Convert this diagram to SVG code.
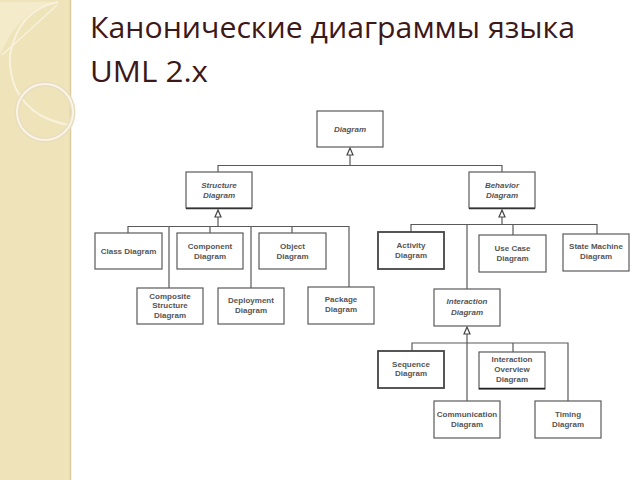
<svg xmlns="http://www.w3.org/2000/svg" width="640" height="480" viewBox="0 0 640 480">
<style>
.bx{fill:#fff;stroke:#5a5a5a;stroke-width:1.2}
.bk{fill:#fff;stroke:#444;stroke-width:1.8}
.t{font-family:"Liberation Sans",Arial,sans-serif;font-size:8px;font-weight:bold;fill:#555;text-anchor:middle}
.i{font-style:italic}
.c{fill:none;stroke:#5a5a5a;stroke-width:1.2}
.ah{fill:#fff;stroke:#444;stroke-width:1.2}
.title{font-family:"Open Sans","Noto Sans","DejaVu Sans",sans-serif;font-size:29px;fill:#3d1818}
</style>
<rect x="0" y="0" width="640" height="480" fill="#fff"/>
<g id="sidebar">
<rect x="0" y="0" width="70" height="480" fill="#efe3b9"/>
<line x1="70.5" y1="0" x2="70.5" y2="480" stroke="#d9cca0" stroke-width="1.5"/>
<path d="M0,55 Q20,8 57,2 L0,2 Z" fill="#f5ecd0" opacity="0.8"/>
<path d="M58,2 Q18,10 10,55 Q8,95 40,115 Q55,123 70,125" fill="none" stroke="#f8f1dc" stroke-width="2"/>
<path d="M57,5 Q30,30 2,55" fill="none" stroke="#f8f1dc" stroke-width="1.5"/>
<circle cx="45" cy="112" r="28" fill="none" stroke="#e8ddc0" stroke-width="5"/>
<circle cx="45" cy="112" r="28" fill="none" stroke="#faf4e4" stroke-width="2"/>
</g>
<g id="title">
<text class="title" x="90" y="38" textLength="485" lengthAdjust="spacingAndGlyphs">Канонические диаграммы языка</text>
<text class="title" x="90" y="82" textLength="118" lengthAdjust="spacingAndGlyphs">UML 2.x</text>
</g>
<g id="connectors">
<path class="c" d="M350,155 V165.5 M218,172 V165.5 H502 V172"/>
<path class="c" d="M218,217 V226.5 M128,233 V226.5 H349 V288 M210,233 V226.5 M292,233 V226.5 M169,288 V226.5 M251,288 V226.5"/>
<path class="c" d="M502,217 V224.5 M411,232 V224.5 H597 V234 M513,235 V224.5 M467,289 V224.5"/>
<path class="c" d="M467,334 V401 M412,351 V343 H568 V401 M513,352 V343"/>
<path class="ah" d="M350,148 L353,155 L347,155 Z"/>
<path class="ah" d="M218,210 L221,217 L215,217 Z"/>
<path class="ah" d="M502,210 L505,217 L499,217 Z"/>
<path class="ah" d="M467,327 L470,334 L464,334 Z"/>
</g>
<g id="diagram"><rect class="bx" x="317" y="111" width="66" height="36"/><text class="t i" x="350" y="132">Diagram</text></g>
<g id="structure"><rect class="bx" x="186" y="172" width="66" height="36"/><line x1="186" y1="208.5" x2="252" y2="208.5" stroke="#333" stroke-width="1.5"/><text class="t i" x="219" y="188">Structure</text><text class="t i" x="219" y="198">Diagram</text></g>
<g id="behavior"><rect class="bx" x="469" y="172" width="66" height="36"/><line x1="469" y1="208.5" x2="535" y2="208.5" stroke="#333" stroke-width="1.5"/><text class="t i" x="502" y="188">Behavior</text><text class="t i" x="502" y="198">Diagram</text></g>
<g id="class"><rect class="bx" x="95" y="233" width="67" height="36"/><text class="t" x="128.5" y="254">Class Diagram</text></g>
<g id="component"><rect class="bx" x="177" y="233" width="66" height="36"/><text class="t" x="210" y="248.5">Component</text><text class="t" x="210" y="258.5">Diagram</text></g>
<g id="object"><rect class="bx" x="259" y="233" width="67" height="36"/><text class="t" x="292.5" y="248.5">Object</text><text class="t" x="292.5" y="258.5">Diagram</text></g>
<g id="composite"><rect class="bx" x="137" y="288" width="66" height="36"/><text class="t" x="170" y="298.5">Composite</text><text class="t" x="170" y="308">Structure</text><text class="t" x="170" y="318">Diagram</text></g>
<g id="deployment"><rect class="bx" x="218" y="288" width="66" height="36"/><text class="t" x="251" y="303">Deployment</text><text class="t" x="251" y="313">Diagram</text></g>
<g id="package"><rect class="bx" x="308" y="287" width="66" height="37"/><text class="t" x="341" y="302">Package</text><text class="t" x="341" y="312">Diagram</text></g>
<g id="activity"><rect class="bk" x="378" y="232" width="66" height="37"/><text class="t" x="411" y="247.5">Activity</text><text class="t" x="411" y="257.5">Diagram</text></g>
<g id="usecase"><rect class="bx" x="479" y="235" width="67" height="37"/><text class="t" x="512.5" y="250.5">Use Case</text><text class="t" x="512.5" y="260.5">Diagram</text></g>
<g id="statemachine"><rect class="bx" x="563" y="234" width="66" height="37"/><text class="t" x="596" y="249">State Machine</text><text class="t" x="596" y="259">Diagram</text></g>
<g id="interaction"><rect class="bx" x="434" y="289" width="66" height="37"/><text class="t i" x="467" y="304">Interaction</text><text class="t i" x="467" y="315">Diagram</text></g>
<g id="sequence"><rect class="bk" x="378" y="351" width="66" height="37"/><text class="t" x="411" y="366.5">Sequence</text><text class="t" x="411" y="376">Diagram</text></g>
<g id="overview"><rect class="bx" x="479" y="352" width="66" height="37"/><line x1="479" y1="388.5" x2="545" y2="388.5" stroke="#222" stroke-width="1.5"/><text class="t" x="512" y="362">Interaction</text><text class="t" x="512" y="372">Overview</text><text class="t" x="512" y="382">Diagram</text></g>
<g id="communication"><rect class="bx" x="434" y="401" width="66" height="37"/><text class="t" x="467" y="416.5">Communication</text><text class="t" x="467" y="427">Diagram</text></g>
<g id="timing"><rect class="bx" x="535" y="401" width="66" height="37"/><text class="t" x="568" y="416.5">Timing</text><text class="t" x="568" y="427">Diagram</text></g>
</svg>
